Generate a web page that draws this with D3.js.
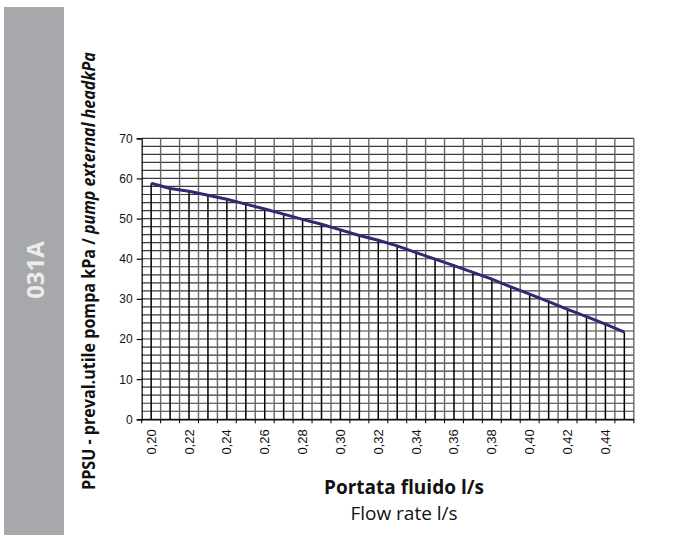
<!DOCTYPE html>
<html>
<head>
<meta charset="utf-8">
<script src="https://cdn.jsdelivr.net/npm/d3@7"></script>
<style>
  html, body { margin: 0; padding: 0; background: #fff; }
  svg { display: block; }
</style>
</head>
<body>
<div id="chart"></div>
<script>
// 数据
var flowRates = [0.20, 0.21, 0.22, 0.23, 0.24, 0.25, 0.26, 0.27, 0.28, 0.29, 0.30, 0.31, 0.32,
  0.33, 0.34, 0.35, 0.36, 0.37, 0.38, 0.39, 0.40, 0.41, 0.42, 0.43, 0.44, 0.45]
var headKPa = [58.8, 57.5, 56.8, 55.8, 54.8, 53.6, 52.4, 51.1, 49.8, 48.6, 47.2, 45.8, 44.6,
  43.2, 41.5, 39.9, 38.3, 36.6, 34.9, 33.0, 31.2, 29.3, 27.4, 25.6, 23.7, 21.7]
var yTicks = [0, 10, 20, 30, 40, 50, 60, 70]
var yMinor = [0, 2, 4, 6, 8, 10, 12, 14, 16, 18, 20, 22, 24, 26, 28, 30, 32, 34, 36, 38, 40,
  42, 44, 46, 48, 50, 52, 54, 56, 58, 60, 62, 64, 66, 68, 70]
var xLabels = ['0,20', '0,22', '0,24', '0,26', '0,28', '0,30', '0,32', '0,34', '0,36', '0,38',
  '0,40', '0,42', '0,44']
var sideLabel = '031A'
var yTitleBold = 'PPSU - preval.utile pompa kPa / '
var yTitleItalic = 'pump external headkPa'
var xTitle1 = 'Portata fluido l/s'
var xTitle2 = 'Flow rate l/s'

function fmt(v) {
  return v.toFixed(2).replace('.', ',')
}

function drawChart() {
  var width = 694
  var height = 537
  var left = 141.7
  var right = 633.8
  var top = 138.3
  var bottom = 419.3

  var svg = d3.select('#chart').append('svg').attr('width', width).attr('height', height)

  // 左侧灰条
  svg.append('rect')
    .attr('x', 4).attr('y', 7).attr('width', 60).attr('height', 528)
    .attr('fill', '#a7a8ab')
  svg.append('text')
    .text(sideLabel)
    .attr('transform', 'translate(34, 270) rotate(-90)')
    .attr('text-anchor', 'middle')
    .attr('dominant-baseline', 'central')
    .attr('fill', '#ececec')
    .attr('font-family', 'Open Sans')
    .attr('font-weight', 'bold')
    .attr('font-size', 24)

  var x = d3.scaleBand()
    .domain(flowRates.map(fmt))
    .range([left, right])
    .padding(0)
  var y = d3.scaleLinear().domain([0, 70]).range([bottom, top])
  var half = x.bandwidth() / 2

  // 网格
  var grid = svg.append('g')
  grid.selectAll('line.h').data(yMinor).enter().append('line')
    .attr('class', 'h')
    .attr('x1', left).attr('x2', right)
    .attr('y1', function(d) { return y(d) })
    .attr('y2', function(d) { return y(d) })
    .attr('stroke', '#3a3a3a')
    .attr('stroke-width', 1.2)
  grid.selectAll('line.v').data(flowRates).enter().append('line')
    .attr('class', 'v')
    .attr('x1', function(d) { return x(fmt(d)) + x.bandwidth() })
    .attr('x2', function(d) { return x(fmt(d)) + x.bandwidth() })
    .attr('y1', top).attr('y2', bottom)
    .attr('stroke', '#666')
    .attr('stroke-width', 1.4)

  // 垂线
  svg.append('g').selectAll('line').data(headKPa).enter().append('line')
    .attr('x1', function(d, i) { return x(fmt(flowRates[i])) + half })
    .attr('x2', function(d, i) { return x(fmt(flowRates[i])) + half })
    .attr('y1', function(d) { return y(d) })
    .attr('y2', bottom)
    .attr('stroke', '#000')
    .attr('stroke-width', 1.5)

  // y轴
  var axisLeft = d3.axisLeft(y).tickValues(yTicks).tickSize(5).tickPadding(4)
  var gy = svg.append('g').attr('transform', 'translate(' + left + ', 0)').call(axisLeft)
  gy.select('.domain').attr('stroke', '#000').attr('stroke-width', 1.2)
  gy.selectAll('.tick line').attr('stroke', '#000').attr('stroke-width', 1.2)
  gy.selectAll('text').attr('fill', '#111').attr('font-family', 'Liberation Sans').attr('font-size', 12)

  // x轴
  var axisBottom = d3.axisBottom(x).tickSize(0).tickPadding(0).tickFormat('')
  var gx = svg.append('g').attr('transform', 'translate(0, ' + bottom + ')').call(axisBottom)
  gx.select('.domain').attr('stroke', '#000').attr('stroke-width', 1.2)
  gx.selectAll('.tickmark').data(flowRates).enter().append('line')
    .attr('class', 'tickmark')
    .attr('x1', function(d) { return x(fmt(d)) })
    .attr('x2', function(d) { return x(fmt(d)) })
    .attr('y1', 0).attr('y2', 4)
    .attr('stroke', '#000')
  gx.append('line')
    .attr('x1', right).attr('x2', right).attr('y1', 0).attr('y2', 4)
    .attr('stroke', '#000')
  gx.selectAll('.xlabel').data(xLabels).enter().append('text')
    .attr('class', 'xlabel')
    .text(function(d) { return d })
    .attr('transform', function(d) {
      return 'translate(' + (x(d) + half) + ', 10) rotate(-90)'
    })
    .attr('text-anchor', 'end')
    .attr('dominant-baseline', 'central')
    .attr('fill', '#111')
    .attr('font-family', 'Liberation Sans')
    .attr('font-size', 13)

  // 曲线
  var line = d3.line()
    .x(function(d, i) { return x(fmt(flowRates[i])) + half })
    .y(function(d) { return y(d) })
  svg.append('path')
    .datum(headKPa)
    .attr('d', line)
    .attr('fill', 'none')
    .attr('stroke', '#2f2b72')
    .attr('stroke-width', 3)

  // y轴标题
  var yt = svg.append('text')
    .attr('text-anchor', 'middle')
    .attr('fill', '#111')
    .attr('font-family', 'Open Sans')
    .attr('font-weight', 'bold')
    .attr('font-size', 18)
  yt.append('tspan').text(yTitleBold)
  yt.append('tspan').text(yTitleItalic).attr('font-style', 'italic')
  var len = yt.node().getComputedTextLength()
  var sx = 438 / len
  yt.attr('transform', 'translate(95, 271) rotate(-90) scale(' + sx + ', 1)')

  // x轴标题
  svg.append('text')
    .text(xTitle1)
    .attr('x', 404).attr('y', 494)
    .attr('text-anchor', 'middle')
    .attr('fill', '#111')
    .attr('font-family', 'Open Sans')
    .attr('font-weight', 'bold')
    .attr('font-size', 19)
  svg.append('text')
    .text(xTitle2)
    .attr('x', 404).attr('y', 520)
    .attr('text-anchor', 'middle')
    .attr('fill', '#111')
    .attr('font-family', 'Open Sans')
    .attr('font-size', 19)
}

drawChart()
</script>
</body>
</html>
